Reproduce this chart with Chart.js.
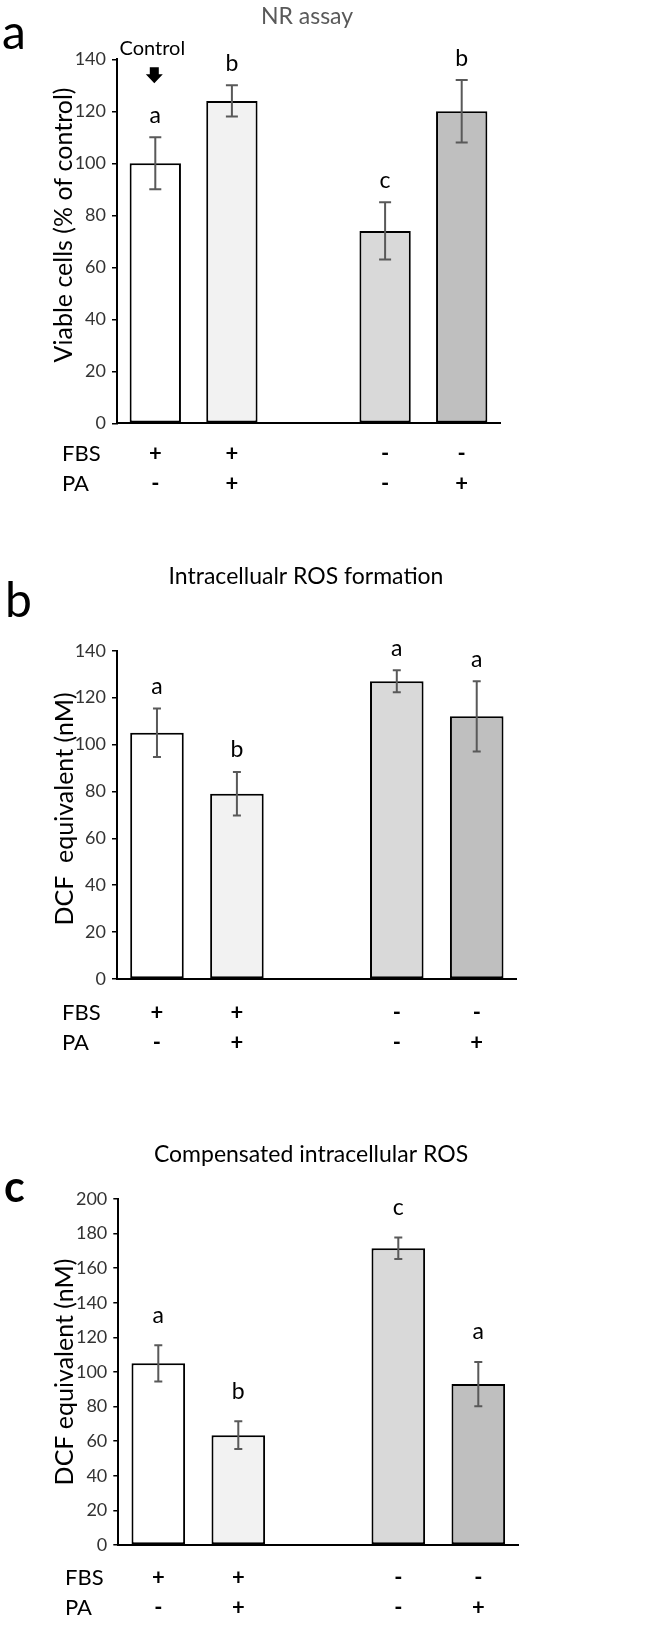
<!DOCTYPE html>
<html>
<head>
<meta charset="utf-8">
<title>NR assay / ROS</title>
<script src="https://cdn.jsdelivr.net/npm/chart.js@4.4.1/dist/chart.umd.min.js"></script>
<style>
  html, body { margin: 0; padding: 0; background: #fff; }
  body { position: relative; width: 664px; height: 1625px; overflow: hidden; }
  canvas { position: absolute; left: 0; }
</style>
</head>
<body>
<canvas id="chartA" width="664" height="500" style="top:0px"></canvas>
<canvas id="chartB" width="664" height="570" style="top:500px"></canvas>
<canvas id="chartC" width="664" height="555" style="top:1070px"></canvas>
<script>
// =====================
// Data
// =====================
const groups = ['FBS+ PA-', 'FBS+ PA+', '', 'FBS- PA-', 'FBS- PA+'];
const fbsRow = ['+', '+', '', '-', '-'];
const paRow = ['-', '+', '', '-', '+'];

const nrValues = [100, 124, null, 74, 120];
const nrErrors = [10, 6, null, 11, 12];
const nrLetters = ['a', 'b', '', 'c', 'b'];

const rosValues = [105, 79, null, 127, 112];
const rosErrors = [10.3, 9.3, null, 4.7, 15];
const rosLetters = ['a', 'b', '', 'a', 'a'];

const compValues = [105, 63.5, null, 171.5, 93];
const compErrors = [10.5, 8, null, 6.2, 12.8];
const compLetters = ['a', 'b', '', 'c', 'a'];

// =====================
// Visual helpers
// =====================
const FONT = 'Lato, "Open Sans", sans-serif';
const barFills = ['#ffffff', '#f2f2f2', '#ffffff', '#d9d9d9', '#bfbfbf'];
const errColor = '#595959';

Chart.defaults.font.family = FONT;

// error bars + significance letters, placed through the y scale
const errorBars = {
  id: 'errorBars',
  afterDatasetsDraw(chart, args, opts) {
    const { ctx, scales: { y } } = chart;
    const meta = chart.getDatasetMeta(0);
    ctx.save();
    chart.data.datasets[0].data.forEach((v, i) => {
      if (v == null) return;
      const e = opts.errors[i];
      const x = meta.data[i].x;
      const top = y.getPixelForValue(v + e);
      const bot = y.getPixelForValue(v - e);
      ctx.strokeStyle = errColor;
      ctx.lineWidth = 2;
      ctx.beginPath();
      ctx.moveTo(x, top); ctx.lineTo(x, bot);
      ctx.moveTo(x - opts.cap, top); ctx.lineTo(x + opts.cap, top);
      ctx.moveTo(x - opts.cap, bot); ctx.lineTo(x + opts.cap, bot);
      ctx.stroke();
      ctx.fillStyle = '#000';
      ctx.font = `23px ${FONT}`;
      ctx.textAlign = 'center';
      ctx.textBaseline = 'middle';
      ctx.fillText(opts.letters[i], x, top - opts.letterGap);
    });
    ctx.restore();
  }
};

// titles, FBS / PA row names and the panel tag
const panelText = {
  id: 'panelText',
  afterDraw(chart, args, o) {
    const { ctx, chartArea } = chart;
    ctx.save();
    ctx.textAlign = 'center';
    ctx.textBaseline = 'middle';
    ctx.fillStyle = o.titleColor;
    ctx.font = `23px ${FONT}`;
    ctx.fillText(o.title, o.titleX, o.titleY);

    ctx.fillStyle = '#000';
    ctx.save();
    ctx.font = `25px ${FONT}`;
    ctx.translate(o.yTitleX, o.yTitleY);
    ctx.rotate(-Math.PI / 2);
    ctx.fillText(o.yTitle, 0, 0);
    ctx.restore();

    ctx.font = `22px ${FONT}`;
    ctx.textAlign = 'left';
    const y0 = chartArea.bottom + o.pad + 15;
    ctx.fillText('FBS', o.rowX, y0);
    ctx.fillText('PA', o.rowX, y0 + 30);

    ctx.font = o.tagFont;
    ctx.textBaseline = 'alphabetic';
    ctx.fillText(o.tag, o.tagX, o.tagY);
    ctx.restore();
  }
};

// "Control" + arrow over the first bar (panel a)
const controlMark = {
  id: 'controlMark',
  afterDraw(chart) {
    const { ctx, chartArea } = chart;
    const x = chart.getDatasetMeta(0).data[0].x - 1;
    const t = chartArea.top;
    ctx.save();
    ctx.fillStyle = '#000';
    ctx.font = `20px ${FONT}`;
    ctx.textAlign = 'center';
    ctx.textBaseline = 'middle';
    ctx.fillText('Control', x - 2, t - 11);
    ctx.beginPath();
    ctx.moveTo(x - 4.5, t + 8);
    ctx.lineTo(x + 4.5, t + 8);
    ctx.lineTo(x + 4.5, t + 15);
    ctx.lineTo(x + 8.5, t + 15);
    ctx.lineTo(x, t + 24);
    ctx.lineTo(x - 8.5, t + 15);
    ctx.lineTo(x - 4.5, t + 15);
    ctx.closePath();
    ctx.fill();
    ctx.restore();
  }
};

function makeChart(id, cfg) {
  return new Chart(document.getElementById(id), {
    type: 'bar',
    data: {
      labels: groups,
      datasets: [{
        data: cfg.values,
        backgroundColor: barFills,
        borderColor: '#000',
        borderWidth: 2,
        borderSkipped: false,
        barPercentage: 0.67,
        categoryPercentage: 1
      }]
    },
    plugins: cfg.plugins,
    options: {
      responsive: false,
      animation: false,
      layout: { padding: { left: 0, right: cfg.right, top: cfg.top, bottom: 0 } },
      plugins: {
        legend: { display: false },
        tooltip: { enabled: false },
        errorBars: { errors: cfg.errors, letters: cfg.letters, cap: cfg.cap, letterGap: cfg.letterGap },
        panelText: {
          title: cfg.title, titleColor: cfg.titleColor, titleX: cfg.titleX, titleY: cfg.titleY,
          yTitle: cfg.yTitle, yTitleX: cfg.yTitleX, yTitleY: cfg.yTitleY,
          pad: cfg.tickPad, rowX: cfg.rowX,
          tag: cfg.tag, tagFont: cfg.tagFont, tagX: cfg.tagX, tagY: cfg.tagY
        }
      },
      scales: {
        x: {
          grid: { display: false, drawTicks: false },
          border: { display: true, color: '#000', width: 2 },
          ticks: {
            color: '#000', font: { size: 22, weight: 'bold', lineHeight: '30px' }, padding: cfg.tickPad,
            autoSkip: false, maxRotation: 0,
            callback: (v, i) => [fbsRow[i], paRow[i]]
          },
          afterFit: s => { s.height = cfg.xHeight; }
        },
        y: {
          min: 0, max: cfg.max,
          ticks: { stepSize: 20, color: '#333', font: { size: 18 }, padding: 6 },
          grid: { drawOnChartArea: false, drawTicks: true, tickLength: 5, color: '#000', lineWidth: 1.5 },
          border: { display: true, color: '#000', width: 2 },
          afterFit: s => { s.width = cfg.left; }
        }
      }
    }
  });
}

// =====================
// Charts
// =====================
const chartA = makeChart('chartA', {
  values: nrValues, errors: nrErrors, letters: nrLetters,
  title: 'NR assay', titleColor: '#595959', titleX: 307, titleY: 17,
  yTitle: 'Viable cells (% of control)', yTitleX: 63.5, yTitleY: 225, max: 140,
  top: 59.3, left: 117, right: 164, xHeight: 76.7, tickPad: 15.5,
  cap: 6, letterGap: 22, rowX: 62,
  tag: 'a', tagFont: `48px ${FONT}`, tagX: 2, tagY: 49,
  plugins: [errorBars, panelText, controlMark]
});

const chartB = makeChart('chartB', {
  values: rosValues, errors: rosErrors, letters: rosLetters,
  title: 'Intracellualr ROS formation', titleColor: '#000', titleX: 306, titleY: 76.7,
  yTitle: 'DCF  equivalent (nM)', yTitleX: 65, yTitleY: 309, max: 140,
  top: 150.7, left: 117, right: 147.3, xHeight: 91, tickPad: 19,
  cap: 4, letterGap: 22, rowX: 62,
  tag: 'b', tagFont: `48px ${FONT}`, tagX: 5, tagY: 117,
  plugins: [errorBars, panelText]
});

const chartC = makeChart('chartC', {
  values: compValues, errors: compErrors, letters: compLetters,
  title: 'Compensated intracellular ROS', titleColor: '#000', titleX: 311, titleY: 85,
  yTitle: 'DCF equivalent (nM)', yTitleX: 64.7, yTitleY: 302, max: 200,
  top: 129, left: 118.3, right: 145.7, xHeight: 80, tickPad: 17.5,
  cap: 4, letterGap: 30, rowX: 65,
  tag: 'c', tagFont: `bold 43px ${FONT}`, tagX: 4, tagY: 132,
  plugins: [errorBars, panelText]
});
</script>
</body>
</html>
